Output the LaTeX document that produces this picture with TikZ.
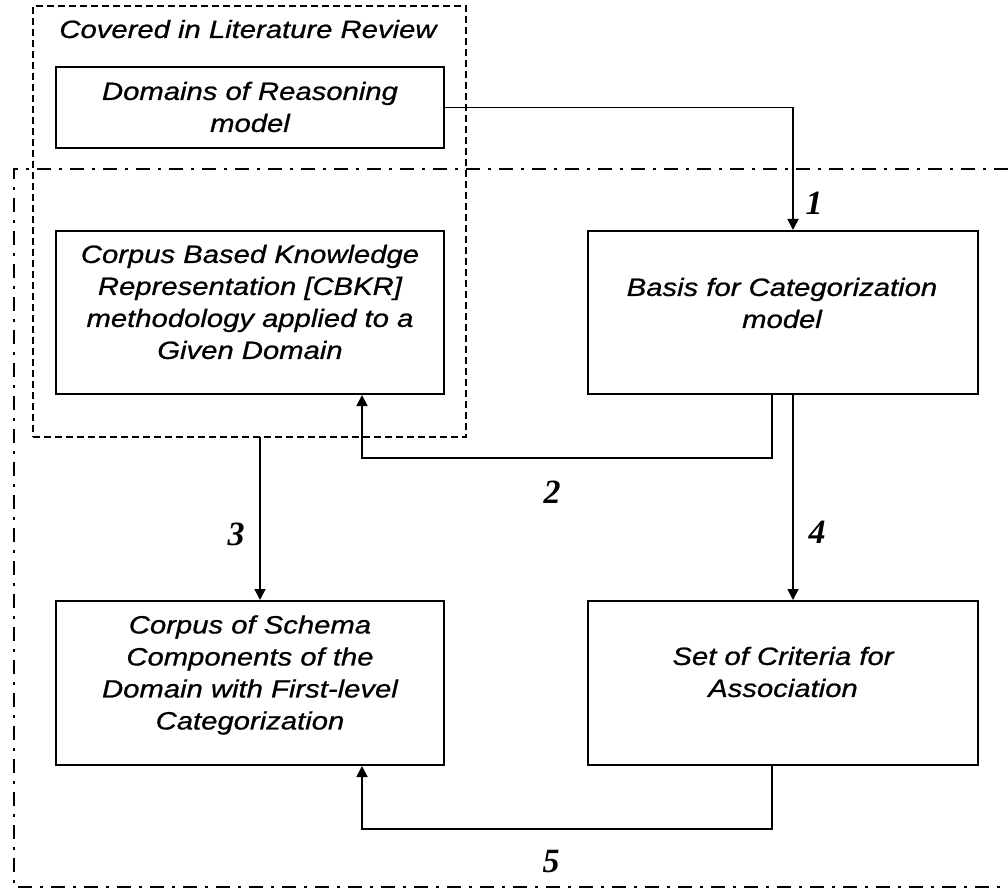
\documentclass[tikz,border=0pt]{standalone}
\usepackage{fontspec}
\usetikzlibrary{arrows.meta,calc}
\newfontfamily\boxfont[FakeStretch=1.17,FakeBold=0.8]{Liberation Sans}
\newfontfamily\numfont{Liberation Serif}
\begin{document}
\begin{tikzpicture}[x=1pt,y=-1pt,
  box/.style={draw, line width=2pt, inner sep=0pt, minimum width=388pt},
  txt/.style={align=center, inner sep=0pt, font=\boxfont\itshape\fontsize{25}{32}\selectfont},
  num/.style={anchor=base, inner sep=0pt, font=\numfont\bfseries\itshape\fontsize{34}{40}\selectfont},
  arr/.style={line width=1.8pt, -{Triangle[width=11pt,length=11pt]}},
  litbox/.style={draw, line width=1.5pt, dash pattern=on 7pt off 4pt, inner sep=0pt},
  scopeline/.style={line width=2.8pt, dash pattern=on 14pt off 8pt on 3pt off 8pt}
]
\useasboundingbox (0,0) rectangle (1008,890);

% outer dash-dot frame (open on the right)
\draw[scopeline] (1008,169) -- (14,169) -- (14,887) -- (1008,887);

% dashed frame of the literature part
\node[litbox, minimum width=433pt, minimum height=431pt] (lit) at (249.5,221.5) {};
\node[txt, anchor=base] (littitle) at (248,38) {Covered in Literature Review};

% boxes
\node[box, minimum height=81pt] (dom) at (250,107.5) {};
\node[txt] (domt) at (250,107) {Domains of Reasoning\\model};

\node[box, minimum height=163pt] (cbkr) at (250,312.5) {};
\node[txt] (cbkrt) at (250,302) {Corpus Based Knowledge\\Representation [CBKR]\\methodology applied to a\\Given Domain};

\node[box, minimum width=390pt, minimum height=163pt] (basis) at (783,312.5) {};
\node[txt] (basist) at (782,303) {Basis for Categorization\\model};

\node[box, minimum height=164pt] (corpus) at (250,683) {};
\node[txt] (corpust) at (250,675) {Corpus of Schema\\Components of the\\Domain with First-level\\Categorization};

\node[box, minimum width=390pt, minimum height=164pt] (crit) at (783,683) {};
\node[txt] (critt) at (783,672) {Set of Criteria for\\Association};

% connectors
\draw[arr] (dom.east) -| ($(basis.north)+(10,0)$);
\draw[arr] ($(basis.south)+(-11,0)$) -- ++(0,63) -| ($(cbkr.south)+(112,0)$);
\coordinate (litout) at (260,437);
\draw[arr] (litout) -- (litout |- corpus.north);
\draw[arr] ($(basis.south)+(10,0)$) -- ($(crit.north)+(10,0)$);
\draw[arr] ($(crit.south)+(-11,0)$) -- ++(0,63) -| ($(corpus.south)+(112,0)$);

% connector numbers
\node[num] (n1) at (814,215) {1};
\node[num] (n2) at (552,503) {2};
\node[num] (n3) at (236,545) {3};
\node[num] (n4) at (817,543) {4};
\node[num] (n5) at (551,872) {5};
\end{tikzpicture}
\end{document}
